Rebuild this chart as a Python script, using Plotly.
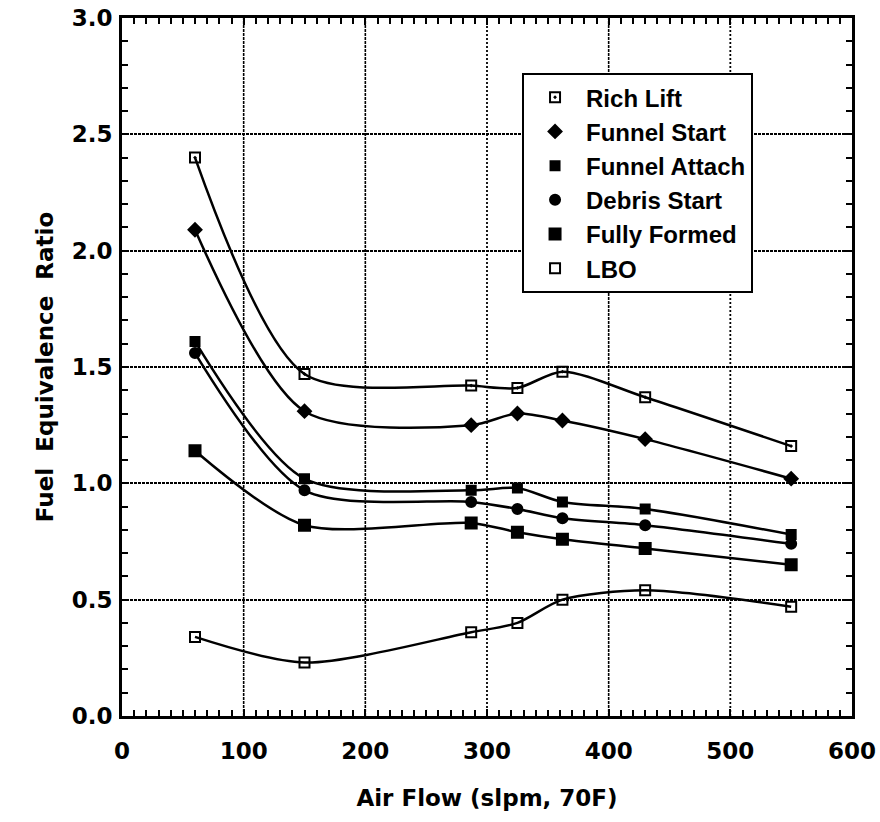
import plotly.graph_objects as go

air_flow = [60, 150, 287, 325, 362, 430, 550]

rich_lift = [2.40, 1.47, 1.42, 1.41, 1.48, 1.37, 1.16]
funnel_start = [2.09, 1.31, 1.25, 1.30, 1.27, 1.19, 1.02]
funnel_attach = [1.61, 1.02, 0.97, 0.98, 0.92, 0.89, 0.78]
debris_start = [1.56, 0.97, 0.92, 0.89, 0.85, 0.82, 0.74]
fully_formed = [1.14, 0.82, 0.83, 0.79, 0.76, 0.72, 0.65]
lbo = [0.34, 0.23, 0.36, 0.40, 0.50, 0.54, 0.47]

series_names = ["Rich Lift", "Funnel Start", "Funnel Attach", "Debris Start", "Fully Formed", "LBO"]
series_values = [rich_lift, funnel_start, funnel_attach, debris_start, fully_formed, lbo]
symbols = ["square-open-dot", "diamond", "square", "circle", "square", "square-open"]
sizes = [10, 10, 9, 10, 11, 10]

x_ticks = [0, 100, 200, 300, 400, 500, 600]
y_ticks = [0.0, 0.5, 1.0, 1.5, 2.0, 2.5, 3.0]
solid_vgrid = [100, 200, 400]
dotted_vgrid = [300, 500]

FONT = "DejaVu Sans"
LEGEND_FONT = "Liberation Sans"

fig = go.Figure()
for name, vals in zip(series_names, series_values):
    fig.add_trace(go.Scatter(
        x=air_flow, y=vals, name=name, mode="lines", showlegend=False,
        line=dict(color="black", width=2.5, shape="spline", smoothing=0.8),
        hoverinfo="skip",
    ))
for name, vals, sym, sz in zip(series_names, series_values, symbols, sizes):
    fig.add_trace(go.Scatter(
        x=air_flow, y=vals, name=name, mode="markers",
        marker=dict(symbol=sym, size=sz, color="black",
                    line=dict(color="black", width=2)),
    ))

shapes = []
for v in solid_vgrid:
    shapes.append(dict(type="line", xref="x", yref="paper", x0=v, x1=v, y0=0, y1=1,
                       line=dict(color="black", width=1.6, dash="3px,1px"), layer="below"))
for v in dotted_vgrid:
    shapes.append(dict(type="line", xref="x", yref="paper", x0=v, x1=v, y0=0, y1=1,
                       line=dict(color="black", width=1.8, dash="2px,2px"), layer="below"))

fig.update_layout(
    width=880, height=822,
    margin=dict(l=122, r=28, t=18, b=106, autoexpand=False),
    plot_bgcolor="white", paper_bgcolor="white",
    font=dict(family=FONT, size=23, color="black", weight="bold"),
    shapes=shapes,
    showlegend=True,
    legend=dict(
        x=0.548, y=0.921, xanchor="left", yanchor="top",
        bgcolor="white", bordercolor="black", borderwidth=2,
        font=dict(family=LEGEND_FONT, size=24, color="black", weight="bold"),
        itemwidth=52, tracegroupgap=0,
    ),
    xaxis=dict(
        range=[0, 600], tickvals=x_ticks, ticktext=[str(t) for t in x_ticks],
        showgrid=False, zeroline=False, automargin=False,
        showline=True, linecolor="black", linewidth=2.8, mirror="ticks",
        ticks="inside", ticklen=7, tickwidth=1.5, tickcolor="black",
        minor=dict(dtick=10, ticks="inside", ticklen=6, tickwidth=1.5, tickcolor="black", showgrid=False),
        tickfont=dict(family=FONT, size=23, weight="bold"),
        ticklabelstandoff=12,
        title=dict(text="Air Flow (slpm, 70F)", standoff=28,
                   font=dict(family=FONT, size=23, weight="bold")),
    ),
    yaxis=dict(
        range=[0, 3.0], tickvals=y_ticks, ticktext=[f"{t:.1f}" for t in y_ticks],
        showgrid=True, gridcolor="black", gridwidth=1.8, griddash="3px,1px",
        zeroline=False, automargin=False,
        showline=True, linecolor="black", linewidth=2.8, mirror="ticks",
        ticks="inside", ticklen=7, tickwidth=1.5, tickcolor="black",
        minor=dict(dtick=0.1, ticks="inside", ticklen=6, tickwidth=1.5, tickcolor="black", showgrid=False),
        tickfont=dict(family=FONT, size=23, weight="bold"),
        ticklabelstandoff=2,
        title=dict(text="Fuel  Equivalence  Ratio", standoff=12,
                   font=dict(family=FONT, size=23, weight="bold")),
    ),
)

fig.write_html("out.html")
